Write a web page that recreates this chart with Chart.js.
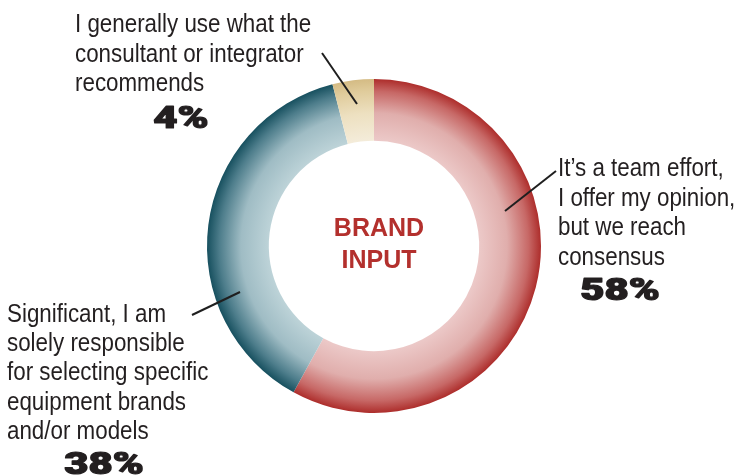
<!DOCTYPE html>
<html>
<head>
<meta charset="utf-8">
<script src="https://cdn.jsdelivr.net/npm/chart.js@4/dist/chart.umd.min.js"></script>
<style>
  html, body { margin: 0; padding: 0; background: #ffffff; }
  #wrap { width: 742px; height: 476px; position: relative; }
</style>
</head>
<body>
<div id="wrap"><canvas id="c" width="742" height="476"></canvas></div>
<script>
// Survey answers, in clockwise order from 12 o'clock
const categories = [
  "It’s a team effort, I offer my opinion, but we reach consensus",
  "Significant, I am solely responsible for selecting specific equipment brands and/or models",
  "I generally use what the consultant or integrator recommends"
];
const shares = [58, 38, 4];

// Wrapped callout text for each answer
const calloutLines = [
  ["It’s a team effort,", "I offer my opinion,", "but we reach", "consensus"],
  ["Significant, I am", "solely responsible", "for selecting specific", "equipment brands", "and/or models"],
  ["I generally use what the", "consultant or integrator", "recommends"]
];
const centerTitle = ["BRAND", "INPUT"];

// Radial shading per slice: light at the hole, deep at the rim
const sliceShades = [
  [[0, "#ecc9c8"], [0.45, "#e0aeac"], [0.8, "#c76866"], [1, "#ad2d2b"]],
  [[0, "#bdd3d8"], [0.45, "#9fbcc4"], [0.8, "#4d7d8b"], [1, "#17505f"]],
  [[0, "#f4ecda"], [0.45, "#ede0c0"], [0.8, "#e0cc9c"], [1, "#d4bb84"]]
];

const CUTOUT = 0.63;

function sliceFill(context) {
  const chart = context.chart;
  const area = chart.chartArea;
  if (!area) return "#cccccc";
  const cx = (area.left + area.right) / 2;
  const cy = (area.top + area.bottom) / 2;
  const rOut = Math.min(area.right - area.left, area.bottom - area.top) / 2;
  const rIn = rOut * CUTOUT;
  const g = chart.ctx.createRadialGradient(cx, cy, rIn, cx, cy, rOut);
  sliceShades[context.dataIndex].forEach(([o, c]) => g.addColorStop(o, c));
  return g;
}

// Draws a string squeezed or stretched horizontally; optional outline thickens heavy figures
function drawText(ctx, text, x, y, font, sx, align, thicken) {
  ctx.save();
  ctx.font = font;
  ctx.textBaseline = "alphabetic";
  ctx.textAlign = align || "left";
  ctx.translate(x, y);
  ctx.scale(sx, 1);
  ctx.fillText(text, 0, 0);
  if (thicken) {
    ctx.strokeStyle = ctx.fillStyle;
    ctx.lineWidth = thicken;
    ctx.lineJoin = "round";
    ctx.strokeText(text, 0, 0);
  }
  ctx.restore();
}

const REG = "26px 'Liberation Sans', Arial, sans-serif";
const BIG = "900 31px Roboto, Inter, Lato, sans-serif";
const INK = "#231f20";

// Callout layout: text block origin, line spacing, percent position, leader line
const callouts = [
  { x: 558, y: 176, step: 29.6, pct: [620, 300], lead: [[505, 211], [556, 171]] },
  { x: 7,   y: 322, step: 29.2, pct: [104, 474], lead: [[192, 315], [240, 292]] },
  { x: 75,  y: 32,  step: 29.5, pct: [181, 128], lead: [[322, 53], [357, 104]] }
];

const annotate = {
  id: "annotate",
  afterDraw(chart) {
    const ctx = chart.ctx;
    ctx.save();
    callouts.forEach((c, i) => {
      ctx.fillStyle = INK;
      calloutLines[i].forEach((line, k) => {
        drawText(ctx, line, c.x, c.y + k * c.step, REG, 0.86, "left");
      });
      drawText(ctx, shares[i] + "%", c.pct[0], c.pct[1], BIG, 1.35, "center", 1.2);
      ctx.strokeStyle = "#1f1f1f";
      ctx.lineWidth = 2;
      ctx.beginPath();
      ctx.moveTo(c.lead[0][0], c.lead[0][1]);
      ctx.lineTo(c.lead[1][0], c.lead[1][1]);
      ctx.stroke();
    });
    // Title in the hole
    ctx.fillStyle = "#b3302d";
    drawText(ctx, centerTitle[0], 379, 236, "bold 25px 'Liberation Sans', Arial, sans-serif", 1.0, "center");
    drawText(ctx, centerTitle[1], 379, 268, "bold 25px 'Liberation Sans', Arial, sans-serif", 1.0, "center");
    ctx.restore();
  }
};

new Chart(document.getElementById("c"), {
  type: "doughnut",
  data: {
    labels: categories,
    datasets: [{
      data: shares,
      backgroundColor: sliceFill,
      borderWidth: 0,
      hoverOffset: 0
    }]
  },
  options: {
    responsive: false,
    animation: false,
    cutout: (CUTOUT * 100) + "%",
    rotation: 0,
    layout: { padding: { left: 207, right: 201, top: 79, bottom: 63 } },
    plugins: {
      legend: { display: false },
      tooltip: { enabled: false }
    }
  },
  plugins: [annotate]
});
</script>
</body>
</html>
